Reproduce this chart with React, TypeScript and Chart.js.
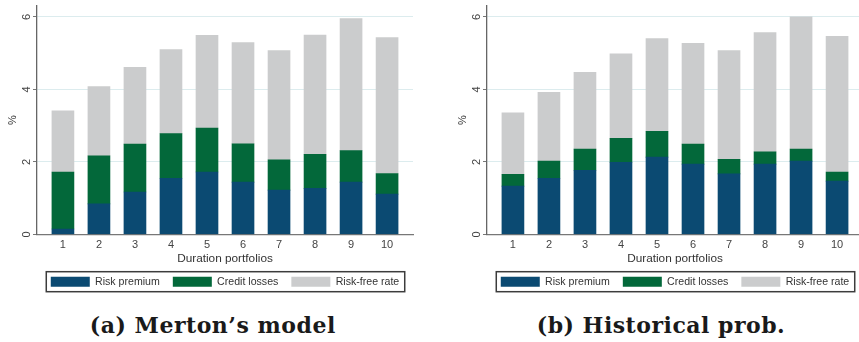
import React, { useEffect, useRef } from "react";
import { Chart, registerables } from "chart.js";

Chart.register(...registerables);

const CATEGORIES = [1, 2, 3, 4, 5, 6, 7, 8, 9, 10];
const SERIES_LABELS = ["Risk premium", "Credit losses", "Risk-free rate"];
const Y_TICKS = [0, 2, 4, 6];
const X_TITLE = "Duration portfolios";
const Y_TITLE = "%";

// (a) Merton's model
const MERTON_RISK_PREMIUM = [0.15, 0.84, 1.17, 1.55, 1.72, 1.44, 1.22, 1.27, 1.44, 1.11];
const MERTON_CREDIT_LOSSES = [1.57, 1.33, 1.32, 1.23, 1.21, 1.06, 0.84, 0.94, 0.87, 0.57];
const MERTON_RISK_FREE = [1.69, 1.91, 2.12, 2.32, 2.56, 2.79, 3.01, 3.29, 3.64, 3.75];

// (b) Historical prob.
const HIST_RISK_PREMIUM = [1.33, 1.55, 1.77, 1.99, 2.13, 1.94, 1.67, 1.94, 2.02, 1.47];
const HIST_CREDIT_LOSSES = [0.33, 0.47, 0.58, 0.66, 0.71, 0.55, 0.4, 0.34, 0.33, 0.25];
const HIST_RISK_FREE = [1.69, 1.9, 2.12, 2.33, 2.56, 2.78, 3.0, 3.29, 3.65, 3.74];

const CAPTION_A = "(a) Merton\u2019s model";
const CAPTION_B = "(b) Historical prob.";

const COLORS = ["#0b4a72", "#03683a", "#cbcccd"];
const FONT = "'Liberation Sans', Arial, Helvetica, sans-serif";

const legendFrame = {
  id: "legendFrame",
  afterLayout(chart: any) {
    const lg = chart.legend;
    const ca = chart.chartArea;
    if (lg && ca) {
      lg.left = ca.left - 20;
      lg.right = ca.right + 20;
      lg.width = lg.right - lg.left;
    }
  },
  afterDraw(chart: any) {
    const lg = chart.legend;
    if (!lg || !lg.legendHitBoxes || !lg.legendHitBoxes.length) return;
    const hb = lg.legendHitBoxes;
    const l = Math.min(...hb.map((h: any) => h.left));
    const r = Math.max(...hb.map((h: any) => h.left + h.width));
    const t = Math.min(...hb.map((h: any) => h.top));
    const b = Math.max(...hb.map((h: any) => h.top + h.height));
    const ctx = chart.ctx;
    ctx.save();
    ctx.strokeStyle = "#3c3c3c";
    ctx.lineWidth = 1.5;
    ctx.strokeRect(l - 4.5, t - 4.7, r - l + 10, b - t + 9.4);
    ctx.restore();
  },
};

function Panel(props: { rp: number[]; cl: number[]; rf: number[]; left: number }) {
  const ref = useRef<HTMLCanvasElement>(null);
  useEffect(() => {
    const series = [props.rp, props.cl, props.rf];
    const chart = new Chart(ref.current as HTMLCanvasElement, {
      type: "bar",
      data: {
        datasets: series.map((vals, k) => ({
          label: SERIES_LABELS[k],
          data: CATEGORIES.map((c, i) => ({ x: c, y: vals[i] })),
          backgroundColor: COLORS[k],
          borderWidth: 0,
          barThickness: 22,
        })),
      },
      options: {
        responsive: false,
        animation: false,
        layout: { padding: { left: 0, right: 17, top: 6, bottom: 3 } },
        plugins: {
          legend: {
            position: "bottom",
            labels: {
              boxWidth: 39,
              boxHeight: 10,
              padding: 13,
              color: "#333",
              font: { family: FONT, size: 10.6 },
            },
          },
          tooltip: { enabled: false },
        },
        scales: {
          x: {
            type: "linear",
            stacked: true,
            offset: false,
            min: 0.28,
            max: 10.72,
            afterBuildTicks: (axis: any) => {
              axis.ticks = CATEGORIES.map((v) => ({ value: v }));
            },
            afterFit: (axis: any) => {
              axis.height = 29;
            },
            grid: { display: false, drawTicks: false },
            border: { display: true, color: "#777", width: 1.2 },
            ticks: {
              padding: 3.5,
              color: "#444",
              font: { family: FONT, size: 11 },
              callback: (v: any) => String(v),
            },
            title: {
              display: true,
              text: X_TITLE,
              color: "#333",
              font: { family: FONT, size: 11.8 },
              padding: { top: 0, bottom: -2.6 },
            },
          },
          y: {
            stacked: true,
            min: 0,
            max: 6.3,
            afterBuildTicks: (axis: any) => {
              axis.ticks = Y_TICKS.map((v) => ({ value: v }));
            },
            afterFit: (axis: any) => {
              axis.width = 37;
              axis.paddingTop = 0;
              axis.paddingBottom = 0;
            },
            grid: {
              color: (c: any) => (c.tick && c.tick.value === 0 ? "rgba(0,0,0,0)" : "#dcecee"),
              tickColor: "#777",
              tickLength: 4,
              lineWidth: 1,
            },
            border: { display: true, color: "#666", width: 1.3 },
            ticks: {
              minRotation: 90,
              maxRotation: 90,
              crossAlign: "near",
              labelOffset: -3,
              padding: 6.25,
              color: "#444",
              font: { family: FONT, size: 11 },
            },
            title: {
              display: true,
              text: Y_TITLE,
              color: "#333",
              font: { family: FONT, size: 11 },
              padding: { top: 6.5, bottom: 0 },
            },
          },
        },
      } as any,
      plugins: [legendFrame],
    });
    return () => chart.destroy();
  }, []);
  return (
    <canvas
      ref={ref}
      width={430}
      height={300}
      style={{ position: "absolute", left: props.left, top: 0, width: 430, height: 300, display: "block" }}
    />
  );
}

const captionStyle: React.CSSProperties = {
  position: "absolute",
  top: 313.7,
  width: 400,
  textAlign: "center",
  fontFamily: "'DejaVu Serif', serif",
  fontWeight: "bold",
  fontSize: 22,
  letterSpacing: "0.5px",
  lineHeight: "22px",
  color: "#1a1a1a",
  whiteSpace: "nowrap",
};

export default function App() {
  return (
    <div
      style={{
        position: "absolute",
        left: 0,
        top: 0,
        width: 859,
        height: 342,
        overflow: "hidden",
        background: "#fff",
      }}
    >
      <Panel rp={MERTON_RISK_PREMIUM} cl={MERTON_CREDIT_LOSSES} rf={MERTON_RISK_FREE} left={0} />
      <Panel rp={HIST_RISK_PREMIUM} cl={HIST_CREDIT_LOSSES} rf={HIST_RISK_FREE} left={450} />
      <div style={{ ...captionStyle, left: 12.8 }}>{CAPTION_A}</div>
      <div style={{ ...captionStyle, left: 461 }}>{CAPTION_B}</div>
    </div>
  );
}
